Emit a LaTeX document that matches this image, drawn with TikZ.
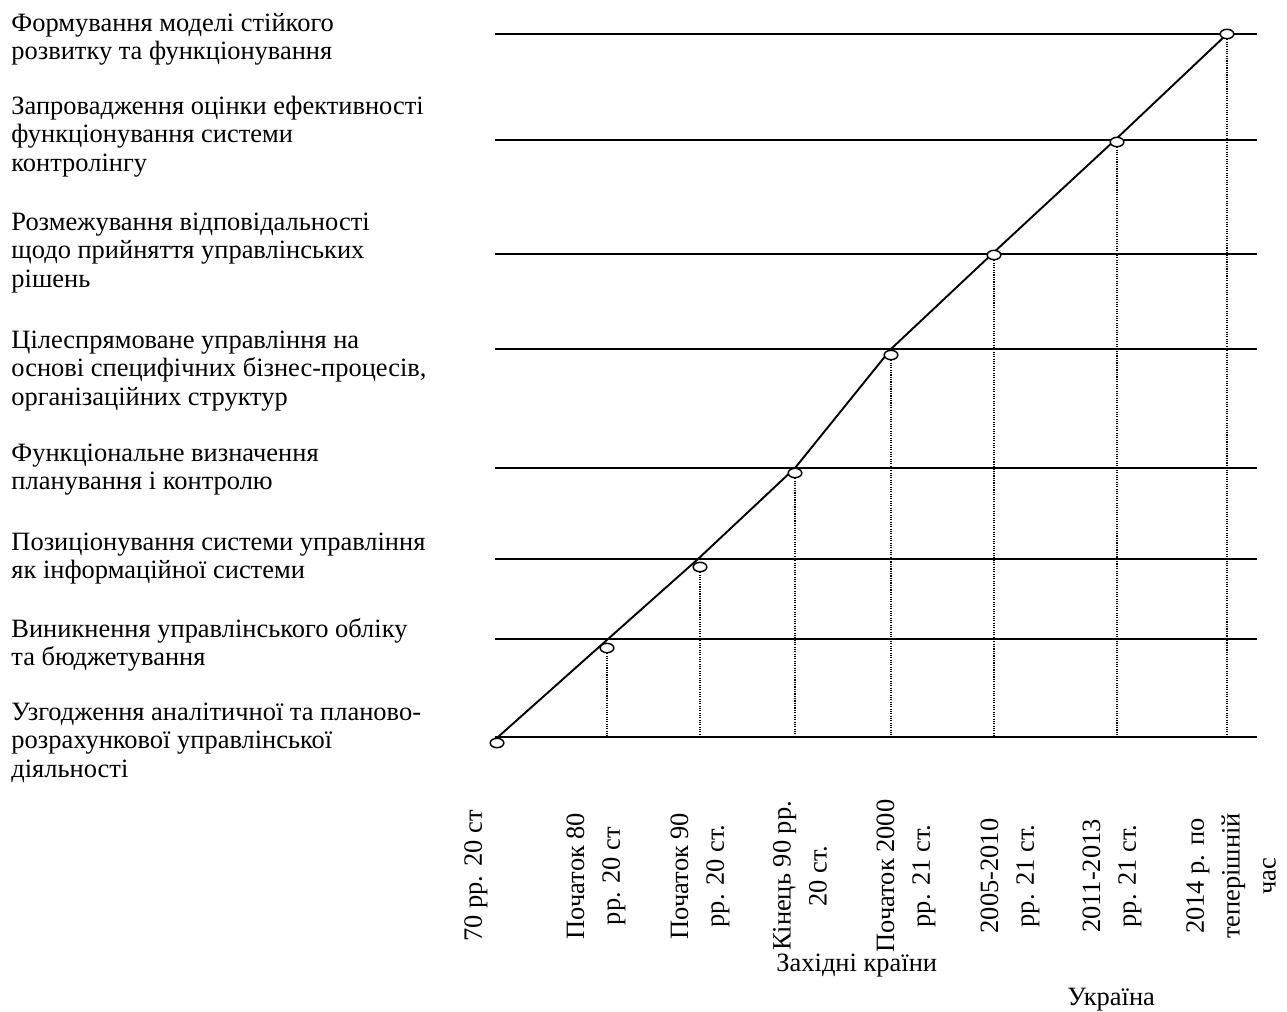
\documentclass[tikz,border=0pt]{standalone}
\usepackage{fontspec}
\setmainfont{Liberation Serif}
\usetikzlibrary{shapes.geometric}
\begin{document}
\begin{tikzpicture}[x=0.4706pt,y=-0.4706pt,
  level/.style={line width=0.95pt},
  trend/.style={line width=0.9pt},
  guide/.style={line width=0.5pt,dash pattern=on 0.5pt off 0.6pt},
  knot/.style={ellipse,draw,fill=white,line width=0.7pt,inner sep=0pt,
    minimum width=6.4pt,minimum height=4.4pt},
  stage/.style={anchor=north west,align=left,inner sep=0pt,
    font=\fontsize{12.45}{13.3}\selectfont},
  period/.style={rotate=90,align=center,inner sep=0pt,
    font=\fontsize{12.45}{16.9}\selectfont},
  region/.style={inner sep=0pt,anchor=base west,font=\fontsize{12.45}{14}\selectfont}]

\useasboundingbox (0,0) rectangle (1287,1012);

% stage levels
\foreach \n/\y in {0/737,1/639,2/559,3/468,4/349,5/254,6/140,7/34} {
  \coordinate (L\n) at (495,\y);
  \coordinate (R\n) at (1257,\y);
  \draw[level] (L\n) -- (R\n);
}

% development path
\coordinate (v0) at (498,737);
\coordinate (v1) at (608,639);
\coordinate (v2) at (698,559);
\coordinate (v3) at (795,468);
\coordinate (v4) at (891,349);
\coordinate (v5) at (992,254);
\coordinate (v6) at (1115,140);
\coordinate (v7) at (1225,36);
\draw[trend] (v0) -- (v1) -- (v2) -- (v3) -- (v4) -- (v5) -- (v6) -- (v7);

% milestones
\node[knot] (c0) at (497,743) {};
\node[knot] (c1) at (607,648) {};
\node[knot] (c2) at (700,567) {};
\node[knot] (c3) at (795,473) {};
\node[knot] (c4) at (891,355) {};
\node[knot] (c5) at (994,255) {};
\node[knot] (c6) at (1117,142) {};
\node[knot] (c7) at (1227,34) {};

% projections onto the time axis
\foreach \i in {1,...,7}
  \draw[guide] (c\i.south) -- (c\i.south |- L0);

% stage descriptions
\node[stage] (s7) at (11,12.7) {Формування моделі стійкого\\розвитку та функціонування};
\node[stage] (s6) at (11,95.7) {Запровадження оцінки ефективності\\функціонування системи\\контролінгу};
\node[stage] (s5) at (11,212.7) {Розмежування відповідальності\\щодо прийняття управлінських\\рішень};
\node[stage] (s4) at (11,330.7) {Цілеспрямоване управління на\\основі специфічних бізнес-процесів,\\організаційних структур};
\node[stage] (s3) at (11,443.7) {Функціональне визначення\\планування і контролю};
\node[stage] (s2) at (11,532.7) {Позиціонування системи управління\\як інформаційної системи};
\node[stage] (s1) at (11,617.7) {Виникнення управлінського обліку\\та бюджетування};
\node[stage] (s0) at (11,702.7) {Узгодження аналітичної та планово-\\розрахункової управлінської\\діяльності};

% periods
\node[period] (p0) at (476,876) {70 рр. 20 ст};
\node[period] (p1) at (596,876) {Початок 80\\рр. 20 ст};
\node[period] (p2) at (700,876) {Початок 90\\рр. 20 ст.};
\node[period] (p3) at (800,876) {Кінець 90 рр.\\20 ст.};
\node[period] (p4) at (906,876) {Початок 2000\\рр. 21 ст.};
\node[period] (p5) at (1010,876) {2005-2010\\рр. 21 ст.};
\node[period] (p6) at (1112,876) {2011-2013\\рр. 21 ст.};
\node[period] (p7) at (1231,876) {2014 р. по\\теперішній\\час};

% regions
\node[region] (west) at (776,971) {Західні країни};
\node[region] (ua) at (1067,1005) {Україна};
\end{tikzpicture}
\end{document}
